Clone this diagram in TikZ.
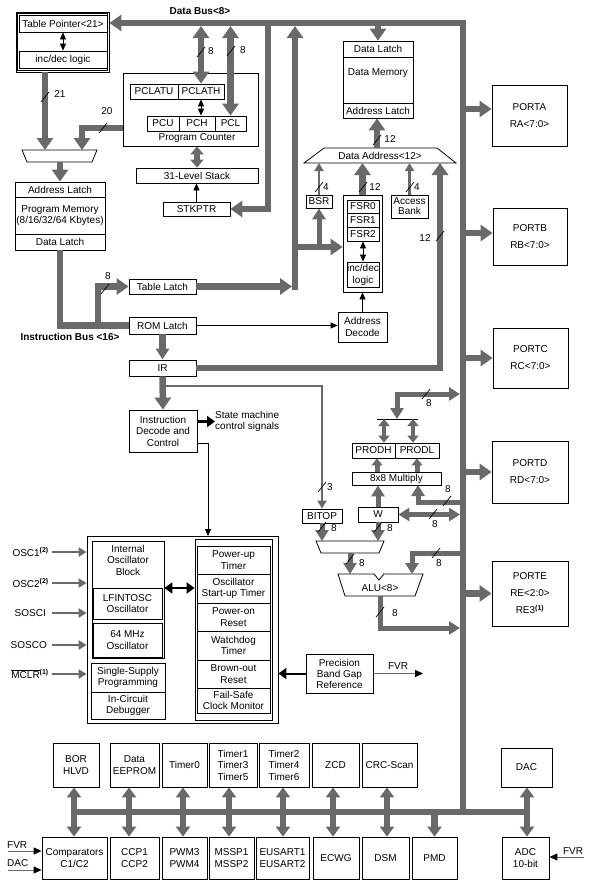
\documentclass[tikz,border=0pt]{standalone}
\usepackage{fontspec}
\setmainfont{Liberation Sans}
\usetikzlibrary{arrows.meta}
\definecolor{gcol}{RGB}{105,105,105}
\tikzset{
  box/.style={draw, line width=0.8pt, inner sep=0pt, align=center, font=\fontsize{10}{11.5}\selectfont},
  port/.style={font=\fontsize{10}{17}\selectfont},
  lbl/.style={inner sep=0pt, align=center, font=\fontsize{10}{11.5}\selectfont},
  blbl/.style={inner sep=0pt, align=center, font=\fontsize{10}{11.5}\selectfont\bfseries},
  bus/.style={draw=gcol, line width=6.5pt, line join=miter},
  mbus/.style={draw=gcol, line width=5pt, line join=miter},
  pbus/.style={draw=gcol, line width=4pt},
  tbus/.style={draw=gcol, line width=2.5pt, line join=miter},
  ibus/.style={draw=gcol, line width=2pt},
  fline/.style={draw=gcol, line width=1pt},
  thinblk/.style={draw=black, line width=0.8pt},
  blkarr/.style={draw=black, line width=2.5pt},
  slashl/.style={draw=black, line width=0.7pt},
  Tb/.tip={Triangle[width=16pt,length=12pt]},
  Tm/.tip={Triangle[width=13pt,length=11pt]},
  Tq/.tip={Triangle[width=13pt,length=8pt]},
  Tp/.tip={Triangle[width=11pt,length=7pt]},
  Tz/.tip={Triangle[width=14pt,length=10pt]},
  Ts/.tip={Triangle[width=9pt,length=8pt]},
  Tk/.tip={Triangle[width=6pt,length=7pt]},
  Tblk/.tip={Triangle[width=11pt,length=8pt]},
  Tf/.tip={Triangle[width=7pt,length=8pt,color=black]},
}
\newcommand{\BX}[7][]{\node[box,#1,minimum width={(#5)-(#3)},minimum height={(#6)-(#4)}] (#2) at ({((#3)+(#5))/2},{((#4)+(#6))/2}) {#7};}
\newcommand{\SLm}[2]{\draw[slashl] ({#1-4},{#2+5}) -- ({#1+4},{#2-5});}
\begin{document}
\begin{tikzpicture}[x=1pt,y=-1pt]
\fill[white] (0,0) rectangle (592,889);
\useasboundingbox (0,0) rectangle (592,889);

% ---------- Table pointer ----------
\BX{tpo}{16}{12}{109}{72}{}
\draw[line width=0.6pt] ([shift={(2pt,-2pt)}]tpo.north west) rectangle ([shift={(-2pt,2pt)}]tpo.south east);
\BX{tp}{19}{15}{107}{32}{Table Pointer<21>}
\BX{tpinc}{19}{51}{107}{68}{inc/dec logic}
\draw[thinblk,{Tk}-{Tk}] (tp.south) -- (tpinc.north);

% ---------- Program counter ----------
\BX{pc}{123}{73}{258}{146}{}
\BX{pclatu}{130}{84}{178}{99}{PCLATU}
\BX{pclath}{178}{84}{224}{99}{PCLATH}
\BX{pcu}{147}{116}{179}{131}{PCU}
\BX{pch}{179}{116}{215}{131}{PCH}
\BX{pcl}{215}{116}{246}{131}{PCL}
\node[lbl] (pcname) at (197,138) {Program Counter};
\draw[thinblk,{Tk}-{Tk}] (pclath.south) -- (pclath.south |- pch.north);

\BX{stack}{136}{168}{258}{183}{31-Level Stack}
\BX{stkptr}{163}{202}{230}{216}{STKPTR}
\draw[bus,{Tq}-{Tq}] (stack.north |- pc.south) -- (stack.north);
\draw[thinblk,-{Tk}] (stkptr.north) -- (stkptr.north |- stack.south);

% ---------- Program memory ----------
\BX{pmal}{15}{182}{105}{197}{Address Latch}
\BX{pmm}{15}{197}{105}{234}{Program Memory\\(8/16/32/64 Kbytes)}
\BX{pmdl}{15}{234}{105}{250}{Data Latch}

% mux
\draw[line width=0.8pt] (22,150) -- (97,150) -- (92,162) -- (27,162) -- cycle;
\coordinate (m1a) at (45,150);
\coordinate (m1b) at (82,150);
\coordinate (m1o) at (60,162);
\coordinate (pcw) at (123,128);
\draw[bus,-{Tb}] (tpo.south -| m1a) -- (m1a);
\draw[bus,-{Tb}] (pcw) -| (m1b);
\draw[bus,-{Tb}] (m1o) -- (pmal.north);

% ---------- Data bus ----------
\node[blbl] (dbl) at (200,11) {Data Bus<8>};
\coordinate (dbR) at (463,23);
\coordinate (dbB) at (463,26);
\coordinate (mbB) at (463,812);
\draw[bus,{Tb}-] (dbR -| tpo.east) -- (dbR) -- (mbB);
\draw[bus,{Tb}-{Tb}] (pclath.north |- dbB) -- (pclath.north);
\draw[bus,{Tb}-{Tb}] (pcl.north |- dbB) -- (pcl.north);
\coordinate (j1) at (268,23);
\draw[bus,-{Tb}] (j1) |- (stkptr.east);

% ---------- latches ----------
\BX{tl}{129}{279}{196}{294}{Table Latch}
\BX{rl}{129}{317}{196}{334}{ROM Latch}
\BX{ir}{129}{360}{196}{376}{IR}
\BX{idc}{129}{410}{197}{452}{Instruction\\Decode and\\Control}
\node[blbl] (ibl) at (70,337) {Instruction Bus <16>};
\draw[bus] (pmdl.south) |- (rl.west);
\coordinate (ib1) at (98,325.5);
\draw[bus,-{Tb}] (ib1) |- (tl.west);
\coordinate (j2t) at (295,26);
\coordinate (j2b) at (295,290);
\coordinate (j2l) at (292,286.5);
\draw[bus,-{Tb}] (j2b) -- (j2t);
\draw[bus,-{Tb}] (tl.east) -- (tl.east -| j2l);
\draw[bus,-{Tm}] (rl.south) -- (ir.north);
\draw[bus,-{Tb}] (ir.south) -- (idc.north);

% ---------- Data memory ----------
\BX{dmdl}{343}{41}{413}{57}{Data Latch}
\BX{dmm}{343}{57}{413}{103}{}
\node[lbl] (dmt) at (378,73) {Data Memory};
\BX{dmal}{343}{103}{413}{118}{Address Latch}
\draw[bus,-{Tb}] (dmdl.north |- dbR) -- (dmdl.north);

\draw[line width=0.8pt] (304,163) -- (324,148) -- (437,148) -- (456,163) -- cycle;
\node[lbl] (da) at (380,156) {Data Address<12>};
\coordinate (dab) at (380,163);
\coordinate (dat) at (377,148);
\draw[bus,-{Tb}] (dat) -- (dat |- dmal.south);

\BX{bsr}{306}{195}{332}{208}{BSR}
\BX{fsro}{343}{195}{382}{292}{}
\BX{fsr0}{347}{200}{379}{213}{FSR0}
\BX{fsr1}{347}{213}{379}{227}{FSR1}
\BX{fsr2}{347}{227}{379}{241}{FSR2}
\BX{fsrinc}{347}{262}{379}{287}{inc/dec\\[0.5pt]logic}
\draw[thinblk,{Tk}-{Tk}] (fsr2.south) -- (fsrinc.north);
\BX[font=\fontsize{10}{10}\selectfont]{acc}{391}{195}{428}{218}{Access\\Bank}
\BX{ad}{338}{312}{387}{342}{Address\\Decode}
\draw[thinblk,-{Tk}] (ad.north) -- (ad.north |- fsro.south);
\draw[thinblk,-{Tk}] (rl.east) -- (rl.east -| ad.west);

\coordinate (j3) at (295,247);
\draw[bus,-{Tb}] (j3) -- (j3 -| fsro.west);
\draw[mbus,-{Tm}] (j3 -| bsr.south) -- (bsr.south);
\draw[tbus,-{Ts}] (bsr.north) -- (bsr.north |- dab);
\draw[bus,-{Tb}] (fsro.north) -- (fsro.north |- dab);
\draw[tbus,-{Ts}] (acc.north) -- (acc.north |- dab);
\coordinate (dair) at (440,163);
\draw[bus,-{Tb}] (ir.east) -| (dair);

% ---------- Ports ----------
\BX[port]{pa}{492}{85}{567}{146}{PORTA\\RA<7:0>}
\BX[port]{pb}{493}{208}{567}{265}{PORTB\\RB<7:0>}
\BX[port]{pcc}{493}{328}{568}{388}{PORTC\\RC<7:0>}
\BX[port]{pd}{492}{441}{568}{503}{PORTD\\RD<7:0>}
\BX[port]{pe}{492}{561}{568}{626}{PORTE\\RE<2:0>\\RE3\textsuperscript{\bfseries(1)}}
\coordinate (pAy) at (463,109);
\coordinate (pBy) at (463,233);
\draw[bus,-{Tb}] (pAy) -- (pAy -| pa.west);
\draw[bus,-{Tb}] (pBy) -- (pBy -| pb.west);
\draw[bus,-{Tb}] (pcc.west -| mbB) -- (pcc.west);
\draw[bus,-{Tb}] (pd.west -| mbB) -- (pd.west);
\draw[bus,-{Tb}] (pe.west -| mbB) -- (pe.west);

% ---------- Multiply / ALU ----------
\BX{prodh}{352}{443}{395}{458}{PRODH}
\BX{prodl}{395}{443}{439}{458}{PRODL}
\BX{mul}{352}{472}{441}{485}{8x8 Multiply}
\BX{w}{358}{507}{398}{522}{W}
\BX{bitop}{302}{509}{342}{523}{BITOP}

% ---------- Decode ----------
\node[lbl, align=left, anchor=west] (smc) at (215,421.5) {State machine\\control signals};
\coordinate (smc0) at (197,421.5);
\draw[blkarr,line width=3pt,-{Tblk}] (smc0) -- (smc.west);
\coordinate (irb) at (163,386);
\draw[tbus,-{Ts}] (irb) -| (bitop.north);
\coordinate (idc1) at (197,443);
\coordinate (osct) at (208,536);
\draw[thinblk,-{Tk}] (idc1) -| (osct);

\coordinate (barL) at (377,419);
\coordinate (barR) at (418,419);
\draw[thinblk] (barL) -- (barR);
\coordinate (barc) at (397,419);
\coordinate (mtop) at (460,394);
\draw[mbus,{Tm}-{Tm}] (barc) |- (mtop);
\coordinate (bh) at (384,419);
\coordinate (bl) at (413,419);
\draw[pbus,{Tp}-{Tp}] (bh) -- (bh |- prodh.north);
\draw[pbus,{Tp}-{Tp}] (bl) -- (bl |- prodl.north);
\coordinate (mh) at (377,472);
\coordinate (ml) at (417,472);
\draw[mbus,-{Tp}] (mh) -- (mh |- prodh.south);
\draw[mbus,-{Tp}] (ml) -- (ml |- prodl.south);
\draw[mbus,-{Tm}] (w.north) -- (w.north |- mul.south);
\coordinate (mb502) at (463,502);
\coordinate (mul2) at (418,485);
\draw[mbus,-{Tm}] (mb502) -| (mul2);
\coordinate (wb) at (460,514.5);
\draw[mbus,{Tm}-{Tm}] (w.east) -- (wb);
\coordinate (m2a) at (322,541);
\coordinate (m2b) at (378,541);
\draw[mbus,-{Tm}] (bitop.south) -- (m2a);
\draw[mbus,-{Tm}] (w.south) -- (m2b);
\draw[line width=0.8pt] (316,541) -- (384,541) -- (379,553) -- (321,553) -- cycle;
\coordinate (m2o) at (350,553);
\coordinate (alua) at (350,574);
\draw[mbus,-{Tm}] (m2o) -- (alua);
\draw[line width=0.8pt] (338,574) -- (374,574) -- (379,580) -- (384,574) -- (423,574) -- (415,596) -- (345,596) -- cycle;
\node[lbl] (alu) at (380,588) {ALU<8>};
\coordinate (mb553) at (463,553);
\coordinate (alub) at (412,574);
\draw[mbus,-{Tm}] (mb553) -| (alub);
\coordinate (aluo) at (380,596);
\coordinate (mb628) at (460,628);
\draw[mbus,-{Tm}] (aluo) |- (mb628);

% ---------- Oscillator / reset block ----------
\BX{osc}{87}{536}{278}{723}{}
\BX{iob}{92}{541}{164}{658}{}
\node[lbl] (iobt) at (128,560) {Internal\\Oscillator\\Block};
\BX{lfint}{93}{588}{162}{619}{LFINTOSC\\Oscillator}
\BX{mhz}{93}{623}{162}{657}{64 MHz\\Oscillator}
\BX{ssp}{91}{663}{165}{692}{Single-Supply\\Programming}
\BX{icd}{91}{692}{165}{719}{In-Circuit\\Debugger}
\BX{rcol}{195}{539}{272}{720}{}
\BX{pwrt}{197}{546}{270}{574}{Power-up\\Timer}
\BX{ost}{197}{574}{270}{603}{Oscillator\\Start-up Timer}
\BX{por}{197}{603}{270}{631}{Power-on\\Reset}
\BX{wdt}{197}{631}{270}{660}{Watchdog\\Timer}
\BX{bor}{197}{660}{270}{688}{Brown-out\\Reset}
\BX{fscm}{197}{688}{270}{713}{Fail-Safe\\Clock Monitor}
\coordinate (oa) at (164,588);
\draw[blkarr,{Tblk}-{Tblk}] (iob.east |- oa) -- (rcol.west |- oa);

\node[lbl,anchor=east] (osc1) at (49,552) {OSC1\textsuperscript{\bfseries(2)}};
\node[lbl,anchor=east] (osc2) at (49,583) {OSC2\textsuperscript{\bfseries(2)}};
\node[lbl,anchor=east] (sosci) at (46,613) {SOSCI};
\node[lbl,anchor=east] (sosco) at (47,645) {SOSCO};
\node[lbl,anchor=east] (mclr) at (49,674) {$\overline{\mbox{MCLR}}$\textsuperscript{\bfseries(1)}};
\draw[ibus,-{Ts}] ([xshift=3pt]osc1.east) -- (osc1.east -| osc.west);
\draw[ibus,-{Ts}] ([xshift=3pt]osc2.east) -- (osc2.east -| osc.west);
\draw[ibus,-{Ts}] ([xshift=6pt]sosci.east) -- (sosci.east -| osc.west);
\draw[ibus,-{Ts}] ([xshift=5pt]sosco.east) -- (sosco.east -| osc.west);
\draw[ibus,-{Ts}] ([xshift=3pt]mclr.east) -- (mclr.east -| osc.west);

\BX[font=\fontsize{10}{11}\selectfont]{pbg}{306}{654}{373}{693}{Precision\\Band Gap\\Reference}
\draw[blkarr,line width=2pt,-{Tblk}] (pbg.west) -- (pbg.west -| osc.east);
\coordinate (fvr1) at (423,673.5);
\draw[fline,-{Tf}] (pbg.east) -- (fvr1);
\node[lbl] (fvrl) at (398,666) {FVR};

% ---------- Peripherals ----------
\coordinate (bbL) at (74,812);
\coordinate (bbR) at (527,812);
\draw[bus] (bbL) -- (bbR);
\BX{borh}{53}{743}{99}{787}{BOR\\HLVD}
\BX{eep}{110}{743}{159}{787}{Data\\EEPROM}
\BX{tmr0}{162}{743}{207}{787}{Timer0}
\BX{tmr1}{209}{743}{257}{787}{Timer1\\Timer3\\Timer5}
\BX{tmr2}{259}{743}{309}{787}{Timer2\\Timer4\\Timer6}
\BX{zcd}{312}{743}{359}{787}{ZCD}
\BX{crc}{362}{743}{417}{787}{CRC-Scan}
\BX{dac}{501}{748}{552}{787}{DAC}
\BX{cmp}{42}{837}{107}{879}{Comparators\\C1/C2}
\BX{ccp}{110}{837}{159}{879}{CCP1\\CCP2}
\BX{pwm}{162}{837}{207}{879}{PWM3\\PWM4}
\BX{mssp}{209}{837}{254}{879}{MSSP1\\MSSP2}
\BX{eus}{256}{837}{309}{879}{EUSART1\\EUSART2}
\BX{ecwg}{313}{837}{359}{879}{ECWG}
\BX{dsm}{362}{837}{409}{879}{DSM}
\BX{pmd}{412}{837}{457}{879}{PMD}
\BX{adc}{502}{837}{549}{879}{ADC\\10-bit}
\coordinate (ax1) at (74,812);
\coordinate (ax2) at (129,812);
\coordinate (ax3) at (183,812);
\coordinate (ax4) at (229,812);
\coordinate (ax5) at (283,812);
\coordinate (ax6) at (333,812);
\coordinate (ax7) at (387,812);
\coordinate (ax8) at (527,812);
\draw[bus,{Tz}-{Tz}] (borh.south -| ax1) -- (cmp.north -| ax1);
\draw[bus,{Tz}-{Tz}] (eep.south -| ax2) -- (ccp.north -| ax2);
\draw[bus,{Tz}-{Tz}] (tmr0.south -| ax3) -- (pwm.north -| ax3);
\draw[bus,{Tz}-{Tz}] (tmr1.south -| ax4) -- (mssp.north -| ax4);
\draw[bus,{Tz}-{Tz}] (tmr2.south -| ax5) -- (eus.north -| ax5);
\draw[bus,{Tz}-{Tz}] (zcd.south -| ax6) -- (ecwg.north -| ax6);
\draw[bus,{Tz}-{Tz}] (crc.south -| ax7) -- (dsm.north -| ax7);
\draw[bus,{Tz}-{Tz}] (dac.south -| ax8) -- (adc.north -| ax8);
\draw[bus,-{Tz}] (pmd.north |- bbR) -- (pmd.north);

\node[lbl,anchor=west] (fvrc) at (7,845) {FVR};
\node[lbl,anchor=west] (dacc) at (7,863) {DAC};
\coordinate (fvrc0) at (8,851);
\coordinate (dacc0) at (8,870);
\draw[fline,-{Tf}] (fvrc0) -- (fvrc0 -| cmp.west);
\draw[fline,-{Tf}] (dacc0) -- (dacc0 -| cmp.west);
\node[lbl] (fvra) at (573,851) {FVR};
\coordinate (fvra0) at (584,857);
\draw[fline,-{Tf}] (fvra0) -- (fvra0 -| adc.east);

% ---------- bus width labels ----------
\node[lbl] (n21) at (60,94) {21};   \SLm{45}{97}
\node[lbl] (n20) at (107,111) {20}; \SLm{103}{128}
\node[lbl] (n8a) at (211,51) {8};   \SLm{201}{52}
\node[lbl] (n8b) at (243,50) {8};   \SLm{231}{51}
\node[lbl] (n12a) at (390,139) {12}; \SLm{377}{140}
\node[lbl] (n4a) at (326,187) {4};  \SLm{319}{187}
\node[lbl] (n12b) at (375,187) {12}; \SLm{363}{187}
\node[lbl] (n4b) at (417,187) {4};  \SLm{410}{187}
\node[lbl] (n12c) at (425,238) {12}; \SLm{440}{236}
\node[lbl] (n8c) at (108,276) {8};  \SLm{105}{289}
\node[lbl] (n3) at (330,487) {3};   \SLm{322}{487}
\node[lbl] (n8d) at (429,403) {8};  \SLm{426}{394}
\node[lbl] (n8e) at (448,489) {8};  \SLm{447}{501}
\node[lbl] (n8f) at (435,524) {8};  \SLm{433}{514}
\node[lbl] (n8g) at (334,528) {8};  \SLm{322}{527}
\node[lbl] (n8h) at (390,528) {8};  \SLm{378}{527}
\node[lbl] (n8i) at (362,563) {8};  \SLm{350}{559}
\node[lbl] (n8j) at (439,563) {8};  \SLm{436}{553}
\node[lbl] (n8k) at (395,613) {8};  \SLm{380}{612}
\end{tikzpicture}
\end{document}
